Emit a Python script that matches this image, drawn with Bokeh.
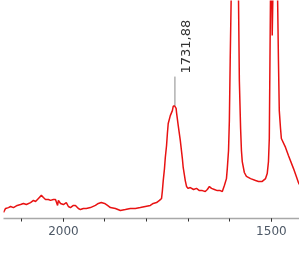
from bokeh.plotting import figure
from bokeh.models import Range1d, FixedTicker, ColumnDataSource
from bokeh.embed import file_html
from bokeh.resources import INLINE
from bokeh.core.properties import value
import math

# IR spectrum (wavenumber, cm-1) vs. signal (arbitrary units)
wavenumber = [2144, 2139, 2132, 2127, 2120, 2111, 2103, 2096, 2089, 2079,
              2072, 2067, 2060, 2053, 2048, 2043, 2036, 2031, 2024, 2019,
              2014, 2012, 2007, 2000, 1993, 1988, 1983, 1976, 1971, 1964,
              1959, 1952, 1945, 1935, 1923, 1916, 1909, 1901, 1894, 1887,
              1875, 1863, 1851, 1839, 1827, 1815, 1803, 1791, 1784, 1776,
              1769, 1764, 1762, 1760, 1757, 1755, 1752, 1750, 1748, 1743,
              1738, 1736, 1733, 1729, 1728, 1724, 1719, 1714, 1712, 1707,
              1704, 1700, 1695, 1687, 1680, 1673, 1666, 1659, 1654, 1649,
              1644, 1637, 1630, 1623, 1618, 1613, 1608, 1606, 1603, 1601,
              1599, 1596, 1594, 1587, 1582, 1579, 1577, 1574, 1572, 1570,
              1565, 1560, 1550, 1538, 1531, 1522, 1514, 1510, 1507, 1505,
              1502, 1500, 1498, 1495, 1490, 1486, 1483, 1481, 1478, 1476,
              1466, 1459, 1447, 1440, 1435, 1433]
signal = [2.8, 4.6, 5.0, 5.5, 5.0, 6.0, 6.4, 6.9, 6.4, 7.3,
          8.3, 7.8, 9.2, 10.6, 9.6, 8.7, 8.7, 8.3, 8.7, 8.7,
          6.0, 8.3, 6.9, 6.4, 7.3, 5.5, 5.0, 6.0, 6.0, 4.6,
          4.1, 4.6, 4.6, 5.0, 6.0, 6.9, 7.3, 6.9, 6.0, 5.0,
          4.6, 3.7, 4.1, 4.6, 4.6, 5.0, 5.5, 6.0, 6.9, 7.3,
          8.3, 9.2, 12.8, 17.4, 22.9, 28.0, 33.5, 39.0, 43.6, 47.2,
          49.5, 51.4, 51.8, 50.5, 48.6, 42.7, 35.8, 27.5, 23.4, 17.4,
          14.7, 13.8, 14.2, 13.3, 13.8, 12.8, 12.8, 12.4, 13.3, 14.7,
          13.8, 13.3, 12.8, 12.8, 12.4, 15.1, 18.3, 22.9, 31.2, 45.0,
          72.5, 109.2, 127.5, 136.7, 127.5, 100.0, 63.3, 41.3, 31.2, 26.1,
          21.1, 19.3, 18.3, 17.4, 17.0, 17.0, 18.3, 20.6, 26.1, 36.7,
          104.6, 118.3, 83.9, 118.3, 127.5, 113.8, 72.5, 49.5, 41.3, 36.7,
          32.6, 28.9, 23.0, 19.3, 16.5, 15.6]

peak_wn = [1731.88]
peak_label = ["1731,88"]
peak_top = [51.8]
leader_top = [65.1]
label_base = [66.5]

major_ticks = [2000, 1500]
minor_ticks = [2100, 2000, 1900, 1800, 1700, 1600, 1500, 1400]

p = figure(frame_width=296, frame_height=218, output_backend="svg",
           toolbar_location=None,
           x_range=Range1d(2144, 1432.4), y_range=Range1d(0, 100),
           min_border_left=0, min_border_right=0, min_border_top=0,
           min_border_bottom=30,
           styles={"position": "fixed", "left": "3px", "top": "0px"})
p.outline_line_color = None
p.grid.visible = False
p.yaxis.visible = False
p.background_fill_color = "white"
p.border_fill_color = "white"

ax = p.xaxis[0]
ax.ticker = FixedTicker(ticks=major_ticks, minor_ticks=minor_ticks)
ax.axis_line_color = "#a8a8a8"
ax.axis_line_width = 1.5
ax.major_tick_in = 0
ax.major_tick_out = 3
ax.minor_tick_in = 0
ax.minor_tick_out = 3
ax.major_tick_line_color = "#333333"
ax.minor_tick_line_color = "#333333"
ax.major_label_text_font = "DejaVu Sans"
ax.major_label_text_font_size = "12px"
ax.major_label_text_color = "#4d5866"
ax.major_label_standoff = 4

p.line(wavenumber, signal, line_color="#e81212", line_width=1.5)

src = ColumnDataSource(dict(x=peak_wn, y0=peak_top, y1=leader_top,
                            yl=label_base, t=peak_label))
p.segment(x0="x", y0="y0", x1="x", y1="y1", source=src,
          line_color="#8a8a8a", line_width=1)
p.text(x="x", y="yl", text="t", source=src, angle=math.pi / 2,
       x_offset=11, text_align="left", text_baseline="middle",
       text_font=value("DejaVu Sans"), text_font_size="13px",
       text_color="#333333")

open("out.html", "w").write(file_html(p, INLINE))
